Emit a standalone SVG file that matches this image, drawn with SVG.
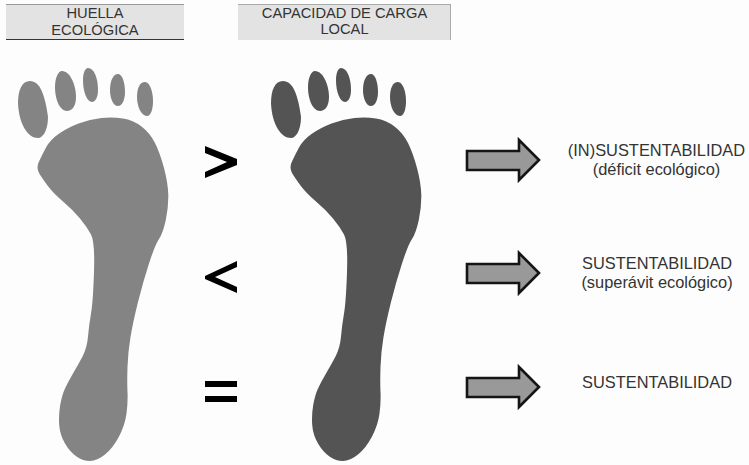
<svg xmlns="http://www.w3.org/2000/svg" xmlns:xlink="http://www.w3.org/1999/xlink" width="749" height="465" viewBox="0 0 749 465">
<style>
text{font-family:"Liberation Sans",Arial,sans-serif;fill:#333;text-anchor:middle}
.h{font-size:14.700px}
.r{font-size:16.400px}
.hd{fill:#e3e3e3}
.arrow{fill:#999;stroke:#151515;stroke-width:2.600;stroke-linejoin:miter}
.light{fill:#848484}
.dark{fill:#545454}
</style>
<defs>
<g id="foot">
<path d="M39 161.500Q42 155 46 147.500Q50 140 58.500 134Q67 128 78.500 123.500Q90 119 101.500 118Q113 117 123 118.500Q133 120 141.500 126.500Q150 133 155 143Q160 153 164 168Q168 183 168.300 195Q168.500 207 165.800 220Q163 233 159 239Q155 245 149 263.500Q143 282 138 302Q133 322 130.500 337Q128 352 127.500 367Q127 382 127.500 392Q128 402 126.500 413.500Q125 425 119 436.500Q113 448 105 454.500Q97 461 90 461Q83 461 76.500 456.500Q70 452 65 443.500Q60 435 59.200 425Q58.500 415 60.200 405Q62 395 65 388.500Q68 382 73 373.500Q78 365 82.500 356.500Q87 348 88 336.500Q89 325 91 313.500Q93 302 94 272Q95 242 91 234.500Q87 227 80 218.500Q73 210 63 201.500Q53 193 47.500 185.500Q42 178 39 173Q36 167 39 161.500Z"/>
<path d="M30 81C40 81 45 95 48 117C48 130 43 138 38 138C28 138 19 125 18 103C18 90 22 81 30 81Z"/>
<path d="M62 71C70 71 76 85 76 97C76 106 72 111 67 111C60 111 55 100 55 87C55 78 58 71 62 71Z"/>
<path d="M88 68C94 68 98 78 98 90C98 98 95 102 92 102C87 102 83 92 83 80C83 73 85 68 88 68Z"/>
<path d="M118 74C122 74 125 82 125 92C125 100 122 106 118 106C113 106 110 98 110 90C110 81 113 74 118 74Z"/>
<path d="M145 82C150 82 153 92 153 101C153 109 151 116 147 116C141 116 137 106 137 97C137 88 140 82 145 82Z"/>
</g>
<polygon id="arw" points="467,151 519,151 519,140 539,160 519,180 519,170 467,170"/>
</defs>
<rect width="749" height="465" fill="#fdfdfd"/>
<g id="header-huella">
<rect class="hd" x="6" y="4" width="178" height="35"/>
<path d="M6 4.500H184" stroke="#999" fill="none"/>
<path d="M6 39.500H184" stroke="#333" fill="none"/>
<text class="h" x="95" y="18">HUELLA</text>
<text class="h" x="95" y="35">ECOLÓGICA</text>
</g>
<g id="header-capacidad">
<rect class="hd" x="238" y="4" width="213" height="36"/>
<path d="M238 4.500H451M450.500 4V40" stroke="#aaa" fill="none"/>
<text class="h" x="344.500" y="18">CAPACIDAD DE CARGA</text>
<text class="h" x="344.500" y="34">LOCAL</text>
</g>
<g id="foot-huella"><use xlink:href="#foot" href="#foot" class="light"/></g>
<g id="foot-capacidad"><use xlink:href="#foot" href="#foot" class="dark" x="253"/></g>
<g id="sym-gt"><polygon points="205,146 237,159 237,165 205,178 205,172 227,162 205,153"/></g>
<g id="sym-lt"><polygon points="205,276 237,261 237,267 215,277 237,287 237,293 205,279"/></g>
<g id="sym-eq"><rect x="205" y="381" width="32" height="6"/><rect x="205" y="396" width="32" height="6"/></g>
<g id="connectors">
<use xlink:href="#arw" href="#arw" class="arrow"/>
<use xlink:href="#arw" href="#arw" class="arrow" y="113"/>
<use xlink:href="#arw" href="#arw" class="arrow" y="227"/>
</g>
<g id="result-1"><text class="r" x="656.500" y="156">(IN)SUSTENTABILIDAD</text><text class="r" x="656.500" y="175">(déficit ecológico)</text></g>
<g id="result-2"><text class="r" x="657" y="269">SUSTENTABILIDAD</text><text class="r" x="657" y="288">(superávit ecológico)</text></g>
<g id="result-3"><text class="r" x="657" y="388">SUSTENTABILIDAD</text></g>
</svg>
